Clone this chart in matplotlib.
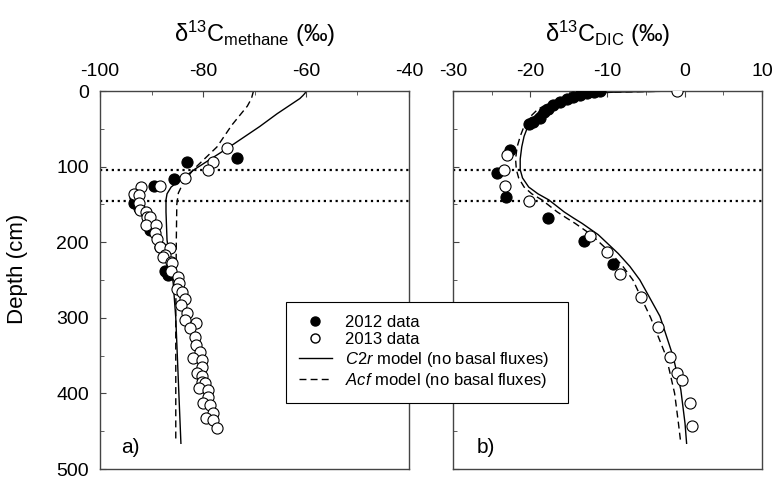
import matplotlib
matplotlib.use('Agg')
import matplotlib.pyplot as plt
from matplotlib.lines import Line2D

plt.rcParams['font.family'] = ['Liberation Sans', 'DejaVu Sans']
plt.rcParams['mathtext.fontset'] = 'custom'
plt.rcParams['mathtext.rm'] = 'Liberation Sans'
plt.rcParams['mathtext.it'] = 'Liberation Sans:italic'
plt.rcParams['axes.unicode_minus'] = False

# ---- panel a) methane data (depth cm, d13C permil) ----
ch4_2012_d = [88, 94, 117, 126, 140, 148, 155, 184, 206, 238, 244]
ch4_2012_v = [-73.5, -83.2, -85.6, -89.5, -93.3, -93.5, -92.5, -90.3, -88.3, -87.3, -86.8]

ch4_2013_d = [75, 94, 104, 115, 126, 127, 136, 137, 148, 157, 160, 167, 167, 177, 177,
              188, 196, 206, 208, 217, 219, 226, 228, 238, 246, 254, 262, 266, 275,
              283, 294, 303, 307, 313, 325, 336, 345, 353, 356, 365, 373, 377, 385,
              386, 393, 396, 405, 413, 415, 426, 433, 435, 446]
ch4_2013_v = [-75.4, -78.0, -79.0, -83.6, -88.3, -92.0, -93.4, -92.5, -92.4, -92.2, -91.1,
              -90.9, -90.3, -91.1, -89.1, -89.3, -88.9, -88.3, -86.4, -87.4, -87.8, -86.3,
              -86.0, -86.2, -84.8, -84.6, -85.0, -84.1, -83.5, -84.3, -83.1, -83.5, -81.4,
              -82.5, -81.5, -81.4, -80.6, -81.9, -80.2, -80.2, -81.2, -80.2, -80.2, -79.6,
              -80.8, -79.0, -79.0, -80.0, -78.6, -78.0, -79.4, -78.0, -77.3]

# model curves, panel a)
ch4_c2r_d = [0, 3, 6, 10, 30, 47, 75, 103, 118, 127, 136, 144, 160, 197, 254, 300, 350, 400, 466]
ch4_c2r_v = [-60.0, -60.2, -60.6, -61.2, -65.6, -69.0, -75.1, -81.5, -84.5, -86.2, -87.0,
             -87.2, -87.2, -87.0, -85.8, -85.3, -85.0, -84.7, -84.3]
ch4_acf_d = [0, 10, 20, 30, 45, 74, 104, 122, 135, 150, 200, 300, 400, 462]
ch4_acf_v = [-70.2, -70.6, -71.4, -72.6, -74.4, -77.3, -81.9, -83.9, -84.8, -85.1, -85.2,
             -85.3, -85.3, -85.3]

# ---- panel b) DIC data ----
dic_2012_d = [0, 1, 3, 5, 7.5, 11, 14, 18.5, 24, 28, 36, 40.5, 44, 78, 109, 140, 168, 199, 229]
dic_2012_v = [-11.0, -11.8, -12.7, -13.6, -14.4, -15.3, -16.1, -17.0, -17.7, -18.2, -18.7,
              -19.6, -20.2, -22.6, -24.3, -23.1, -17.7, -13.0, -9.25]

dic_2013_d = [0, 85, 104.5, 126, 145, 192, 212.5, 242, 272, 312.6, 352, 372.6, 382, 413, 443]
dic_2013_v = [-1.0, -23.0, -23.4, -23.3, -20.2, -12.3, -10.0, -8.4, -5.7, -3.4, -1.9, -1.0,
              -0.4, 0.7, 0.94]

dic_c2r_d = [0, 1.5, 3, 8, 15, 25, 35, 44, 60, 74, 90, 104, 115, 127, 136, 144, 152, 160,
             168, 175, 190, 215, 232, 250, 298, 351, 395, 440, 466]
dic_c2r_v = [-1.0, -9.0, -12.5, -15.0, -17.0, -18.6, -19.6, -20.2, -20.8, -21.1, -21.3,
             -21.3, -21.0, -20.2, -19.0, -17.6, -16.6, -15.6, -14.4, -13.3, -11.2, -8.6,
             -7.1, -5.8, -3.2, -1.5, -0.5, 0.05, 0.25]
dic_acf_d = [0, 1.5, 3, 8, 15, 25, 35, 44, 60, 74, 90, 104, 115, 127, 136, 144, 152, 160,
             168, 175, 190, 215, 232, 250, 300, 351, 373, 400, 440, 466]
dic_acf_v = [-1.0, -9.5, -13.0, -15.5, -17.5, -19.1, -20.1, -20.7, -21.3, -21.7, -21.9,
             -21.8, -21.5, -20.8, -19.8, -18.5, -17.5, -16.5, -15.3, -14.2, -12.1, -9.5,
             -8.0, -6.7, -4.4, -2.4, -1.9, -1.3, -0.8, -0.5]

sulfate_zone = [104, 145]

fig = plt.figure(figsize=(7.76, 4.8), dpi=100)
ax1 = fig.add_axes([0.129, 0.0229, 0.398, 0.7875])
ax2 = fig.add_axes([0.5838, 0.0229, 0.398, 0.7875])

spine_col = '#444444'
mk = dict(markersize=8, markeredgewidth=0.8, linestyle='none', zorder=3)

for ax in (ax1, ax2):
    for s in ax.spines.values():
        s.set_color(spine_col)
        s.set_linewidth(1.0)
    ax.xaxis.tick_top()
    ax.xaxis.set_label_position('top')
    ax.set_ylim(500, 0)
    ax.set_yticks([0, 100, 200, 300, 400, 500])
    ax.set_yticks([50, 150, 250, 350, 450], minor=True)
    ax.tick_params(which='both', direction='in', color=spine_col, labelsize=14,
                   top=True, bottom=False, left=True, right=False)
    ax.tick_params(which='major', length=4, pad=8)
    ax.tick_params(which='minor', length=3)
    for d in sulfate_zone:
        ax.axhline(d, color='k', ls=':', lw=1.6, zorder=1)

# panel a
ax1.plot(ch4_c2r_v, ch4_c2r_d, color='k', lw=1.0, zorder=2)
ax1.plot(ch4_acf_v, ch4_acf_d, color='k', lw=1.0, dashes=(5, 3), zorder=2)
ax1.plot(ch4_2012_v, ch4_2012_d, 'o', color='k', markerfacecolor='k', **mk)
ax1.plot(ch4_2013_v, ch4_2013_d, 'o', color='k', markerfacecolor='white', **mk)
ax1.set_xlim(-100, -40)
ax1.set_xticks([-100, -80, -60, -40])
ax1.set_xticks([-90, -70, -50], minor=True)
ax1.set_xlabel(r'δ$^{13}$C$_{\mathrm{methane}}$ (‰)', fontsize=17, labelpad=15)
ax1.set_ylabel('Depth (cm)', fontsize=16)
ax1.yaxis.set_label_coords(-0.235, 0.53)
ax1.text(0.097, 0.056, 'a)', transform=ax1.transAxes, fontsize=15, ha='center', va='center')

# panel b
ax2.plot(dic_c2r_v, dic_c2r_d, color='k', lw=1.0, zorder=2)
ax2.plot(dic_acf_v, dic_acf_d, color='k', lw=1.0, dashes=(5, 3), zorder=2)
ax2.plot(dic_2012_v, dic_2012_d, 'o', color='k', markerfacecolor='k', **mk)
ax2.plot(dic_2013_v, dic_2013_d, 'o', color='k', markerfacecolor='white', **mk)
ax2.set_xlim(-30, 10)
ax2.set_xticks([-30, -20, -10, 0, 10])
ax2.set_xticks([-25, -15, -5, 5], minor=True)
ax2.set_yticklabels([])
ax2.set_xlabel(r'δ$^{13}$C$_{\mathrm{DIC}}$ (‰)', fontsize=17, labelpad=15)
ax2.text(0.107, 0.056, 'b)', transform=ax2.transAxes, fontsize=15, ha='center', va='center')

handles = [
    Line2D([], [], marker='o', ls='none', color='k', markerfacecolor='k', markersize=6.5),
    Line2D([], [], marker='o', ls='none', color='k', markerfacecolor='white', markersize=6.5),
    Line2D([], [], color='k', lw=1.0),
    Line2D([], [], color='k', lw=1.0, dashes=(5, 3)),
]
labels = ['2012 data', '2013 data',
          r'$\it{C2r}$ model (no basal fluxes)',
          r'$\it{Acf}$ model (no basal fluxes)']
leg = fig.legend(handles, labels, loc='upper left',
                 bbox_to_anchor=(0.3686, 0.1646, 0.363, 0.206),
                 mode='expand', borderaxespad=0, fontsize=12, frameon=True,
                 fancybox=False, framealpha=1, edgecolor='k', borderpad=0.75,
                 labelspacing=0.15, handlelength=2.0, handletextpad=0.8)
leg.get_frame().set_linewidth(0.8)
leg.set_zorder(10)

fig.savefig('out.png', dpi=100)
